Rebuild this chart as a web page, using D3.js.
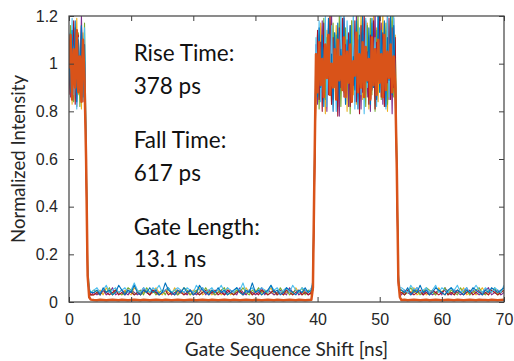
<!DOCTYPE html>
<html>
<head>
<meta charset="utf-8">
<script src="https://cdn.jsdelivr.net/npm/d3@7"></script>
<style>
  body { margin: 0; background: #fff; }
  svg { display: block; font-family: Lato, 'Open Sans', sans-serif; }
</style>
</head>
<body>
<script>
// sample times [ns]
const shiftNs = [
  0,0.25,0.5,0.75,1,1.25,1.5,1.75,2,2.25,2.5,
  2.75,3,3.25,3.5,
  4,4.5,5,5.5,6,6.5,7,7.5,8,8.5,9,9.5,10,10.5,11,11.5,12,12.5,13,13.5,14,14.5,15,15.5,16,16.5,17,17.5,18,18.5,19,19.5,20,20.5,21,21.5,22,22.5,23,23.5,24,24.5,25,25.5,26,26.5,27,27.5,28,28.5,29,29.5,30,30.5,31,31.5,32,32.5,33,33.5,34,34.5,35,35.5,36,36.5,37,37.5,38,38.5,39,
  39.25,39.5,
  39.75,40,40.25,40.5,40.75,41,41.25,41.5,41.75,42,42.25,42.5,42.75,43,43.25,43.5,43.75,44,44.25,44.5,44.75,45,45.25,45.5,45.75,46,46.25,46.5,46.75,47,47.25,47.5,47.75,48,48.25,48.5,48.75,49,49.25,49.5,49.75,50,50.25,50.5,50.75,51,51.25,51.5,51.75,52,52.25,52.5,
  52.75,53,53.25,
  53.5,54,54.5,55,55.5,56,56.5,57,57.5,58,58.5,59,59.5,60,60.5,61,61.5,62,62.5,63,63.5,64,64.5,65,65.5,66,66.5,67,67.5,68,68.5,69,69.5,70
];

const traceBlue = [
  1.05,0.88,1.14,0.92,1.18,0.84,1.10,0.95,1.16,0.86,1.08,
  .62,.12,.05,.04,
  .04,.05,.03,.06,.04,.05,.03,.04,.07,.05,.03,.05,.04,.07,.04,.03,.05,.04,.06,.04,
  .05,.03,.04,.08,.05,.04,.03,.05,.04,.06,.04,.05,.03,.04,.07,.05,.04,.03,.05,.04,
  .06,.04,.05,.03,.04,.05,.06,.04,.03,.05,.04,.08,.04,.05,.03,.04,.05,.07,.04,.05,
  .03,.04,.06,.05,.04,.03,.05,.04,.06,.04,.05,
  .08,.58,
  1.02,0.86,1.15,0.90,1.12,0.82,1.08,0.95,1.19,0.87,1.04,0.80,1.13,0.93,1.17,0.85,1.06,0.91,1.20,0.83,
  1.10,0.96,1.16,0.84,1.03,0.89,1.18,0.81,1.12,0.94,1.21,0.86,1.07,0.92,1.15,0.83,1.19,0.90,1.05,0.85,
  1.22,0.88,1.14,0.95,1.18,0.82,1.11,0.93,1.21,0.87,1.16,0.91,
  .55,.09,.05,
  .05,.04,.06,.03,.05,.04,.07,.04,.05,.03,.04,.06,.05,.04,.03,.05,.06,.04,.05,.04,
  .03,.05,.04,.06,.05,.04,.03,.05,.04,.06,.05,.04,.05,.06
];

const traceYellow = [
  0.95,1.12,0.83,1.06,0.90,1.19,0.87,1.02,0.81,1.13,0.97,
  .66,.15,.05,.03,
  .03,.04,.05,.03,.06,.04,.03,.05,.04,.03,.05,.04,.03,.06,.05,.03,.04,.05,.03,.04,
  .06,.04,.03,.05,.04,.03,.06,.04,.05,.03,.04,.03,.05,.04,.06,.03,.04,.05,.03,.04,
  .05,.03,.04,.06,.03,.04,.05,.04,.03,.06,.04,.03,.05,.04,.03,.05,.04,.06,.03,.04,
  .05,.03,.04,.05,.03,.06,.04,.03,.05,.04,.03,
  .06,.52,
  0.89,1.10,0.84,1.17,0.93,1.05,0.79,1.14,0.97,1.20,0.86,1.08,0.91,1.16,0.82,1.03,0.95,1.19,0.88,1.12,
  0.80,1.09,0.94,1.18,0.87,1.13,0.83,1.06,0.98,1.21,0.85,1.11,0.90,1.17,0.81,1.04,0.96,1.20,0.88,1.15,
  0.84,1.09,0.92,1.22,0.86,1.14,0.80,1.07,0.95,1.18,0.89,1.12,
  .60,.11,.04,
  .04,.03,.05,.04,.06,.03,.04,.05,.03,.04,.05,.03,.06,.04,.03,.05,.04,.03,.05,.04,
  .06,.03,.04,.05,.03,.04,.06,.04,.03,.05,.04,.03,.05,.04
];

const tracePurple = [
  1.10,0.86,1.01,0.93,1.15,0.82,1.07,0.89,1.20,0.91,1.04,
  .58,.10,.04,.03,
  .04,.03,.04,.05,.03,.04,.06,.03,.04,.05,.04,.03,.05,.04,.03,.04,.06,.04,.03,.05,
  .04,.03,.04,.05,.06,.03,.04,.03,.05,.04,.03,.05,.04,.03,.04,.06,.03,.05,.04,.03,
  .04,.05,.03,.04,.05,.04,.03,.06,.04,.03,.05,.04,.03,.04,.06,.03,.05,.04,.03,.04,
  .05,.04,.03,.06,.04,.05,.03,.04,.05,.03,.04,
  .07,.50,
  1.08,0.83,1.12,0.96,1.18,0.87,1.01,0.80,1.15,0.92,1.21,0.85,1.06,0.90,1.13,0.78,1.10,0.94,1.19,0.86,
  1.04,0.82,1.16,0.97,1.09,0.84,1.20,0.89,1.02,0.81,1.14,0.93,1.18,0.86,1.07,0.80,1.12,0.95,1.22,0.84,
  1.05,0.90,1.17,0.83,1.10,0.96,1.21,0.85,1.13,0.79,1.19,0.92,
  .52,.08,.04,
  .03,.05,.04,.03,.04,.06,.04,.03,.05,.04,.03,.04,.05,.03,.06,.04,.03,.05,.04,.03,
  .04,.06,.03,.05,.04,.03,.04,.05,.06,.03,.04,.05,.03,.04
];

const traceGreen = [
  0.91,1.16,0.98,0.84,1.09,0.95,1.13,0.82,1.05,0.93,1.17,
  .64,.13,.05,.04,
  .05,.04,.03,.05,.04,.06,.03,.05,.04,.03,.04,.06,.05,.03,.04,.05,.03,.06,.04,.05,
  .03,.04,.05,.03,.06,.04,.05,.03,.04,.06,.05,.03,.04,.05,.03,.04,.06,.04,.05,.03,
  .04,.05,.06,.03,.04,.03,.05,.04,.06,.04,.03,.05,.04,.06,.04,.05,.03,.04,.05,.03,
  .06,.04,.05,.03,.04,.05,.04,.06,.03,.05,.04,
  .07,.56,
  0.94,1.13,0.81,1.07,0.88,1.19,0.85,1.11,0.98,1.04,0.83,1.17,0.90,1.12,0.87,1.20,0.82,1.06,0.95,1.15,
  0.89,1.10,0.79,1.18,0.92,1.08,0.86,1.21,0.84,1.13,0.96,1.05,0.82,1.16,0.91,1.19,0.87,1.09,0.80,1.14,
  0.93,1.20,0.85,1.08,0.97,1.17,0.83,1.12,0.89,1.22,0.86,1.10,
  .58,.10,.05,
  .05,.03,.04,.06,.04,.05,.03,.04,.06,.05,.04,.03,.05,.04,.06,.03,.05,.04,.03,.06,
  .04,.05,.03,.04,.05,.06,.04,.03,.05,.04,.06,.03,.04,.05
];

const traceCyan = [
  1.13,0.90,1.19,0.87,1.04,0.81,1.11,0.97,1.02,0.85,1.15,
  .70,.16,.06,.04,
  .05,.06,.04,.05,.07,.04,.05,.06,.04,.05,.06,.04,.05,.08,.05,.04,.06,.05,.04,.06,
  .05,.07,.04,.05,.06,.04,.05,.06,.05,.04,.06,.05,.04,.07,.05,.06,.04,.05,.06,.04,
  .05,.07,.04,.06,.05,.04,.06,.05,.08,.04,.05,.06,.04,.05,.06,.05,.04,.07,.05,.06,
  .04,.05,.06,.04,.07,.05,.04,.06,.05,.04,.06,
  .09,.60,
  1.11,0.88,1.18,0.84,1.03,0.95,1.20,0.82,1.09,0.91,1.16,0.86,1.13,0.80,1.07,0.97,1.21,0.89,1.04,0.83,
  1.18,0.92,1.10,0.85,1.22,0.81,1.06,0.94,1.15,0.87,1.12,0.79,1.19,0.90,1.05,0.84,1.17,0.96,1.11,0.82,
  1.20,0.88,1.14,0.92,1.07,0.81,1.22,0.86,1.16,0.93,1.21,0.85,
  .62,.12,.06,
  .06,.05,.04,.07,.05,.06,.04,.05,.06,.04,.05,.07,.04,.06,.05,.04,.06,.05,.07,.04,
  .05,.06,.04,.05,.07,.05,.04,.06,.05,.04,.06,.05,.04,.07
];

const traceDarkRed = [
  0.87,1.07,0.94,1.18,0.83,1.00,1.12,0.89,1.16,0.84,1.01,
  .57,.09,.04,.03,
  .03,.04,.03,.05,.04,.03,.04,.05,.03,.04,.03,.05,.04,.03,.04,.03,.05,.04,.03,.05,
  .04,.03,.04,.05,.03,.04,.03,.05,.04,.03,.04,.05,.03,.04,.03,.04,.05,.03,.04,.05,
  .03,.04,.03,.05,.04,.03,.04,.05,.03,.04,.05,.03,.04,.03,.05,.04,.03,.04,.05,.03,
  .04,.03,.05,.04,.03,.04,.05,.03,.04,.03,.04,
  .05,.48,
  0.92,1.14,0.85,1.09,0.80,1.17,0.96,1.03,0.87,1.20,0.83,1.11,0.93,1.06,0.78,1.15,0.90,1.19,0.86,1.08,
  0.95,1.13,0.82,1.02,0.91,1.18,0.84,1.10,0.79,1.16,0.88,1.21,0.94,1.05,0.83,1.12,0.89,1.18,0.81,1.09,
  0.97,1.20,0.86,1.13,0.82,1.06,0.92,1.19,0.85,1.15,0.90,1.11,
  .50,.07,.04,
  .04,.03,.05,.04,.03,.04,.05,.03,.04,.03,.05,.04,.03,.04,.05,.03,.04,.03,.05,.04,
  .03,.04,.05,.03,.04,.05,.03,.04,.03,.05,.04,.03,.04,.05
];

const traceOrange = [
  0.98,1.12,0.85,1.06,0.90,1.14,0.88,1.03,0.84,1.10,0.93,
  .60,.11,.02,.01,
  .008,.007,.009,.008,.007,.008,.009,.008,.007,.009,.008,.007,.008,.009,.008,.007,.009,.008,.007,.008,
  .009,.008,.007,.009,.008,.007,.008,.009,.008,.007,.008,.009,.008,.007,.008,.009,.008,.007,.009,.008,
  .007,.008,.009,.008,.007,.009,.008,.007,.008,.009,.008,.007,.009,.008,.007,.008,.009,.008,.007,.009,
  .008,.007,.008,.009,.008,.007,.009,.008,.007,.008,.009,
  .06,.55,
  1.04,0.88,1.09,0.91,1.02,0.86,1.08,0.94,1.12,0.87,1.00,0.90,1.06,0.85,1.10,0.93,1.03,0.89,1.11,0.86,
  1.05,0.92,1.08,0.84,1.01,0.95,1.13,0.88,1.04,0.90,1.09,0.86,1.07,0.93,1.02,0.85,1.11,0.91,1.06,0.87,
  1.10,0.92,1.04,0.86,1.12,0.89,1.05,0.94,1.08,0.88,1.03,0.90,
  .56,.09,.02,
  .008,.009,.007,.008,.009,.008,.007,.008,.009,.007,.008,.009,.008,.007,.008,.009,.008,.007,.009,.008,
  .007,.008,.009,.008,.007,.009,.008,.008,.007,.009,.008,.007,.008,.009
];

// drawing order (last on top)
const seriesNames = ['yellow', 'purple', 'green', 'darkred', 'cyan', 'blue', 'orange'];
const seriesValues = [traceYellow, tracePurple, traceGreen, traceDarkRed, traceCyan, traceBlue, traceOrange];
const seriesColors = ['#EDB120', '#7E2F8E', '#77AC30', '#A2142F', '#4DBEEE', '#0072BD', '#D95319'];

const xTicks = [0, 10, 20, 30, 40, 50, 60, 70];
const yTicks = [0, 0.2, 0.4, 0.6, 0.8, 1, 1.2];
const yTickLabels = ['0', '0.2', '0.4', '0.6', '0.8', '1', '1.2'];

const noteLines = ['Rise Time:', '378 ps', 'Fall Time:', '617 ps', 'Gate Length:', '13.1 ns'];
const noteBaselines = [61, 94, 148, 181, 235, 267];

const width = 514;
const height = 361;
const margin = { top: 16, right: 10, bottom: 59, left: 69 };
const innerW = width - margin.left - margin.right;
const innerH = height - margin.top - margin.bottom;
const axisColor = '#404040';
const textColor = '#262626';

const x = d3.scaleLinear().domain([0, 70]).range([0, innerW]);
const y = d3.scaleLinear().domain([0, 1.2]).range([innerH, 0]);

const svg = d3.select('body')
  .append('svg')
  .attr('width', width)
  .attr('height', height);

const g = svg.append('g')
  .attr('transform', `translate(${margin.left},${margin.top})`);

g.append('clipPath')
  .attr('id', 'plot-clip')
  .append('rect')
  .attr('width', innerW)
  .attr('height', innerH);

const line = d3.line()
  .x((d, i) => x(shiftNs[i]))
  .y(d => y(d));

g.append('g')
  .attr('clip-path', 'url(#plot-clip)')
  .selectAll('path')
  .data(seriesValues).enter()
  .append('path')
  .attr('d', line)
  .attr('fill', 'none')
  .attr('stroke', (d, i) => seriesColors[i])
  .attr('stroke-width', (d, i) => seriesNames[i] === 'orange' ? 2.5 : 1.1)
  .attr('stroke-linejoin', 'round');

// axes, ticks pointing inwards like matlab
const styleAxis = sel => {
  sel.select('.domain').remove();
  sel.selectAll('line').attr('stroke', axisColor);
  sel.selectAll('text')
    .attr('fill', textColor)
    .style('font-size', '16px');
};

g.append('g')
  .attr('transform', `translate(0,${innerH})`)
  .call(d3.axisBottom(x).tickValues(xTicks).tickSizeInner(-5).tickSizeOuter(0).tickPadding(12))
  .call(styleAxis);

g.append('g')
  .call(d3.axisTop(x).tickValues(xTicks).tickSizeInner(-5).tickSizeOuter(0).tickFormat(''))
  .call(styleAxis);

g.append('g')
  .call(d3.axisLeft(y).tickValues(yTicks).tickSizeInner(-5).tickSizeOuter(0).tickPadding(11)
    .tickFormat((d, i) => yTickLabels[i]))
  .call(styleAxis);

g.append('g')
  .attr('transform', `translate(${innerW},0)`)
  .call(d3.axisRight(y).tickValues(yTicks).tickSizeInner(-5).tickSizeOuter(0).tickFormat(''))
  .call(styleAxis);

g.append('rect')
  .attr('width', innerW)
  .attr('height', innerH)
  .attr('fill', 'none')
  .attr('stroke', axisColor)
  .attr('stroke-width', 1.2);

g.selectAll('.note')
  .data(noteLines).enter()
  .append('text')
  .attr('class', 'note')
  .attr('x', x(10.4))
  .attr('y', (d, i) => noteBaselines[i] - margin.top)
  .attr('fill', '#111')
  .style('font-size', '22.5px')
  .text(d => d);

svg.append('text')
  .attr('x', margin.left + innerW / 2)
  .attr('y', 356)
  .attr('text-anchor', 'middle')
  .attr('fill', textColor)
  .style('font-size', '19px')
  .text('Gate Sequence Shift [ns]');

svg.append('text')
  .attr('transform', `translate(25,${margin.top + innerH / 2}) rotate(-90)`)
  .attr('text-anchor', 'middle')
  .attr('fill', textColor)
  .style('font-size', '18.5px')
  .text('Normalized Intensity');
</script>
</body>
</html>
